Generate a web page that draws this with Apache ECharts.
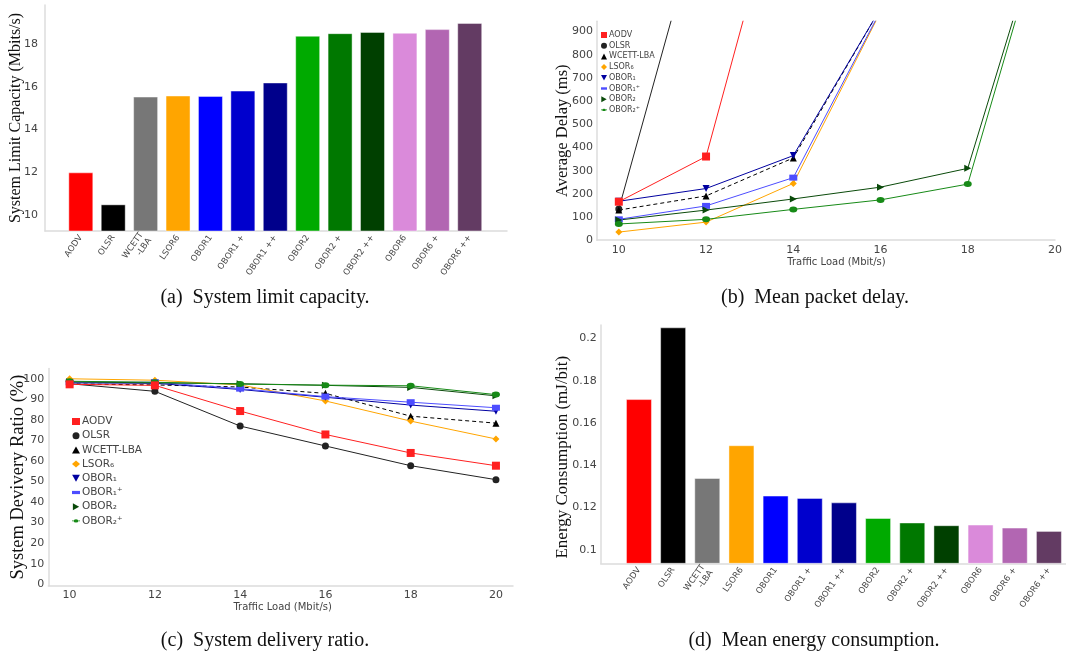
<!DOCTYPE html>
<html>
<head>
<meta charset="utf-8">
<script src="https://cdn.jsdelivr.net/npm/echarts@6/dist/echarts.min.js"></script>
<style>
html,body{margin:0;padding:0;background:#fff;}
#main{width:1066px;height:654px;}
</style>
</head>
<body>
<div id="main"></div>
<script>
// ---------- data ----------
const barCategories = ['AODV','OLSR','WCETT\n-LBA','LSOR6','OBOR1','OBOR1 +','OBOR1 ++','OBOR2','OBOR2 +','OBOR2 ++','OBOR6','OBOR6 +','OBOR6 ++'];
const capacity = [12.0,10.5,15.55,15.6,15.58,15.83,16.21,18.4,18.52,18.58,18.54,18.71,19.0];
const energy = [0.1713,0.2052,0.134,0.1495,0.1257,0.1246,0.1225,0.1151,0.113,0.1117,0.112,0.1106,0.109];
const capacityTicks = [10,12,14,16,18];
const energyTicks = [0.1,0.12,0.14,0.16,0.18,0.2];

const loads = [10,12,14,16,18,20];
const lineNames = ['AODV','OLSR','WCETT-LBA','LSOR\u2086','OBOR\u2081','OBOR\u2081\u207A','OBOR\u2082','OBOR\u2082\u207A'];
// mean packet delay (ms) at loads 10,12,14,... (points above the top of the plot are cut off)
const delayAODV   = [166, 361, 1740];
const delayOLSR   = [135, 1490];
const delayWCETT  = [130, 191, 355, 1000];
const delayLSOR6  = [35, 78, 245, 985];
const delayOBOR1  = [168, 223, 365, 1000];
const delayOBOR1p = [90, 148, 270, 990];
const delayOBOR2  = [87, 130, 178, 229, 310, 1544];
const delayOBOR2p = [70, 90, 133, 174, 242, 1532];
const delayTicks = [0,100,200,300,400,500,600,700,800,900];
// delivery ratio (%)
const ratioAODV   = [97.3, 96.8, 84.3, 72.9, 63.9, 57.7];
const ratioOLSR   = [97.6, 93.9, 77.0, 67.3, 57.7, 50.9];
const ratioWCETT  = [97.5, 97.0, 96.0, 92.9, 81.8, 78.4];
const ratioLSOR6  = [100.0, 99.3, 97.0, 89.2, 79.4, 70.7];
const ratioOBOR1  = [98.0, 97.8, 94.8, 91.0, 87.2, 84.2];
const ratioOBOR1p = [98.3, 98.3, 95.2, 91.3, 88.6, 85.9];
const ratioOBOR2  = [98.5, 98.0, 97.6, 96.8, 95.8, 91.7];
const ratioOBOR2p = [98.8, 98.3, 97.4, 96.9, 96.6, 92.3];
const ratioTicks = [0,10,20,30,40,50,60,70,80,90,100];

// ---------- styles ----------
const barColors = ['#ff0000','#000000','#777777','#ffa500','#0000ff','#0000cd','#00008b','#00aa00','#007800','#004000','#da8ada','#b266b2','#633b63'];
const lineColors = ['#ff2020','#222222','#000000','#ffa500','#0000a0','#4d4dff','#0a4a0a','#178a17'];
const markerSymbols = ['rect','circle','triangle','diamond','path://M0,0L10,0L5,9Z','rect','path://M0,0L9,5L0,10Z','circle'];
const markerSizes = [8,7,7,7,7,[8,6],7,[8,6]];
const legendIcons = ['rect','circle','triangle','diamond','path://M0,0L10,0L5,9Z','path://M0,0L10,0L10,4L0,4Z','path://M0,0L9,5L0,10Z','path://M0,1.5L2,1.5L2,2.5L0,2.5Z M2,2A3,2,0,1,1,8,2A3,2,0,1,1,2,2Z M8,1.5L10,1.5L10,2.5L8,2.5Z'];

const tickFont = 'DejaVu Sans';
const serif = 'Liberation Serif';
const axisLineStyle = {show:true, onZero:false, lineStyle:{color:'#dcdcdc', width:1.5}};

const chart = echarts.init(document.getElementById('main'));

function fmt(v){ return String(+v.toFixed(2)); }

function barXAxis(gridIndex, min, max){
  return {
    type:'value', gridIndex, min, max,
    axisLine:axisLineStyle, splitLine:{show:false}, axisTick:{show:false},
    axisLabel:{customValues:barCategories.map((c,i)=>i), formatter:v=>barCategories[Math.round(v)],
      rotate:55, fontSize:8.5, color:'#444', fontFamily:tickFont, margin:5, lineHeight:10}
  };
}
function loadXAxis(gridIndex, min, max, name, pad, gap){
  return {
    type:'value', gridIndex, min, max,
    axisLine:axisLineStyle, splitLine:{show:false}, axisTick:{show:false},
    axisLabel:{customValues:loads, fontSize:11, color:'#444', fontFamily:tickFont, margin:4},
    name, nameLocation:'middle', nameGap:gap, nameMoveOverlap:false,
    nameTextStyle:{fontSize:10, color:'#444', fontFamily:tickFont, padding:pad}
  };
}
function yAx(gridIndex, min, max, ticks, name, gap, size, margin, pad){
  return {
    type:'value', gridIndex, min, max,
    axisLine:axisLineStyle, splitLine:{show:false}, axisTick:{show:false},
    axisLabel:{customValues:ticks, formatter:fmt, fontSize:11, color:'#444', fontFamily:tickFont, margin},
    name, nameLocation:'middle', nameRotate:90, nameGap:gap, nameMoveOverlap:false,
    nameTextStyle:{fontSize:size, color:'#111', fontFamily:serif, padding:pad}
  };
}

const delaySets = [delayAODV,delayOLSR,delayWCETT,delayLSOR6,delayOBOR1,delayOBOR1p,delayOBOR2,delayOBOR2p];
const ratioSets = [ratioAODV,ratioOLSR,ratioWCETT,ratioLSOR6,ratioOBOR1,ratioOBOR1p,ratioOBOR2,ratioOBOR2p];

function lineSeries(sets, axisIndex){
  return sets.map((arr,k)=>({
    type:'line', name:lineNames[k], xAxisIndex:axisIndex, yAxisIndex:axisIndex,
    data:arr.map((v,i)=>[loads[i],v]),
    symbol:markerSymbols[k], symbolSize:markerSizes[k], showSymbol:true,
    clip:true, z: k===0 ? 4 : 2,
    itemStyle:{color:lineColors[k]},
    lineStyle:{color:lineColors[k], width:1, type: k===2 ? [4,3] : 'solid'},
    emphasis:{disabled:true}
  }));
}

const option = {
  animation:false,
  grid:[
    {left:45, top:5, width:462, height:226},
    {left:597, top:21.2, width:458, height:219},
    {left:48.3, top:368.5, width:464.7, height:217.2},
    {left:600.7, top:325, width:465.3, height:238.3}
  ],
  xAxis:[
    barXAxis(0, -1.105, 13.15),
    loadXAxis(1, 9.5, 20, 'Traffic Load (Mbit/s)', [0,0,0,21], 17),
    loadXAxis(2, 9.5, 20.4, 'Traffic Load (Mbit/s)', [0,0,0,4], 16.5),
    barXAxis(3, -1.12, 12.5)
  ],
  yAxis:[
    yAx(0, 9.25, 19.84, capacityTicks, 'System Limit Capacity (Mbits/s)', 21, 16, 7, [0,0,0,0]),
    yAx(1, 0, 945, delayTicks, 'Average Delay (ms)', 26, 16.5, 4, [0,0,0,0]),
    yAx(2, -0.7, 105, ratioTicks, 'System Devivery Ratio (%)', 21, 18.5, 4, [0,0,0,0]),
    yAx(3, 0.0937, 0.2063, energyTicks, 'Energy Consumption (mJ/bit)', 30, 17, 4, [0,26,0,0])
  ],
  legend:[
    {orient:'vertical', left:601, top:30, padding:0, itemWidth:6, itemHeight:6, itemGap:0.7,
     data:lineNames.map((n,k)=>({name:n, icon:legendIcons[k]})),
     textStyle:{fontSize:8, color:'#444', fontFamily:tickFont, lineHeight:10, padding:[0,0,0,-3]}, selectedMode:false},
    {orient:'vertical', left:72, top:415.5, padding:0, itemWidth:8, itemHeight:7, itemGap:2.2,
     data:lineNames.map((n,k)=>({name:n, icon:legendIcons[k]})),
     textStyle:{fontSize:10.5, color:'#444', fontFamily:tickFont, lineHeight:12, padding:[0,0,0,-3]}, selectedMode:false}
  ],
  series:[
    {type:'bar', xAxisIndex:0, yAxisIndex:0, barWidth:25, clip:true,
     data:capacity.map((v,i)=>({value:[i,v], itemStyle:{color:barColors[i]}})),
     itemStyle:{borderColor:'rgba(255,255,255,0.45)', borderWidth:1}, emphasis:{disabled:true}},
    ...lineSeries(delaySets, 1),
    ...lineSeries(ratioSets, 2),
    {type:'bar', xAxisIndex:3, yAxisIndex:3, barWidth:26, clip:true,
     data:energy.map((v,i)=>({value:[i,v], itemStyle:{color:barColors[i]}})),
     itemStyle:{borderColor:'rgba(255,255,255,0.45)', borderWidth:1}, emphasis:{disabled:true}}
  ],
  graphic:[
    {type:'text', x:265, y:298, style:{text:'(a)  System limit capacity.', font:'20px "Liberation Serif"', fill:'#111', textAlign:'center', textVerticalAlign:'middle'}},
    {type:'text', x:815, y:298, style:{text:'(b)  Mean packet delay.', font:'20px "Liberation Serif"', fill:'#111', textAlign:'center', textVerticalAlign:'middle'}},
    {type:'text', x:265, y:641, style:{text:'(c)  System delivery ratio.', font:'20px "Liberation Serif"', fill:'#111', textAlign:'center', textVerticalAlign:'middle'}},
    {type:'text', x:814, y:641, style:{text:'(d)  Mean energy consumption.', font:'20px "Liberation Serif"', fill:'#111', textAlign:'center', textVerticalAlign:'middle'}}
  ]
};
chart.setOption(option);
</script>
</body>
</html>
